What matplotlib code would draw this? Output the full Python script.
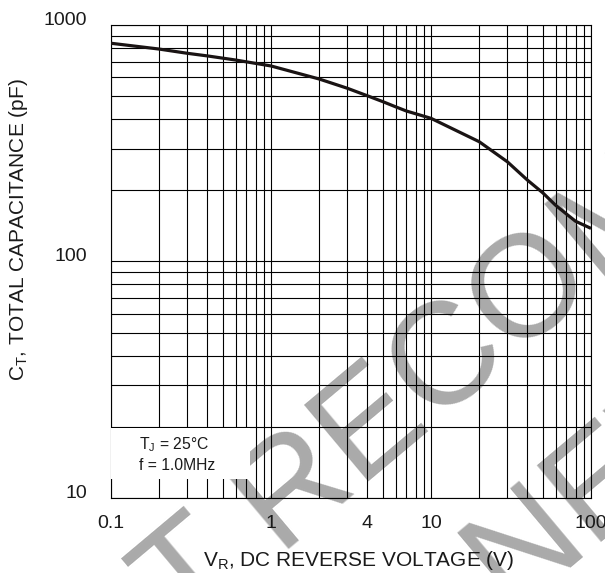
import matplotlib
matplotlib.use("Agg")
import matplotlib.pyplot as plt
import matplotlib.transforms as mtransforms
from matplotlib.patches import Rectangle
from matplotlib.ticker import FixedLocator, LogLocator, NullFormatter

plt.rcParams["font.family"] = ["Liberation Sans", "DejaVu Sans"]

# typical total capacitance vs reverse voltage
vr = [0.1, 0.2, 0.3, 0.4, 0.6, 1, 2, 3, 4, 5, 6, 7, 10,
      20, 30, 40, 50, 60, 70, 80, 100]
ct = [837, 791, 759, 740, 711, 671, 591, 540, 502, 474, 451, 433, 403,
      321, 264, 221, 195, 173, 159, 148, 138]

x_ticks = [0.1, 1, 4, 10, 100]
x_tick_labels = ["0.1", "1", "4", "10", "100"]
y_ticks = [10, 100, 1000]
y_tick_labels = ["10", "100", "1000"]

note_lines = ["T$_\\mathregular{J}$ = 25°C", "f = 1.0MHz"]
stamp_lines = ["NOT RECOMMENDED", "FOR NEW DESIGN"]

fig = plt.figure(figsize=(6.05, 5.73), dpi=100)
ax = fig.add_axes([0.1835, 0.1309, 0.7934, 0.8255])
ax.set_facecolor("none")

# grey diagonal stamp behind the chart
stamp_pos = [(0.982, 0.490), (1.218, 0.253)]
for (sx, sy), line in zip(stamp_pos, stamp_lines):
    fig.text(sx, sy, line, fontsize=104, color="#aaaaaa", rotation=40,
             rotation_mode="anchor", ha="center", va="baseline", zorder=-5)

ax.plot(vr, ct, color="#1a1414", linewidth=2.3, zorder=4,
        solid_capstyle="butt")

ax.set_xscale("log")
ax.set_yscale("log")
ax.set_xlim(0.1, 100)
ax.set_ylim(10, 1000)

ax.xaxis.set_major_locator(FixedLocator(x_ticks))
ax.set_xticklabels(x_tick_labels)
ax.yaxis.set_major_locator(FixedLocator(y_ticks))
ax.set_yticklabels(y_tick_labels)
ax.xaxis.set_minor_locator(LogLocator(base=10, subs=range(1, 10)))
ax.yaxis.set_minor_locator(LogLocator(base=10, subs=range(1, 10)))
ax.xaxis.set_minor_formatter(NullFormatter())
ax.yaxis.set_minor_formatter(NullFormatter())

ax.grid(True, which="both", color="black", linewidth=0.8)
ax.tick_params(which="both", length=0, labelsize=14, colors="#1a1a1a")
ax.tick_params(axis="x", pad=12)
ax.tick_params(axis="y", pad=17)
for spine in ax.spines.values():
    spine.set_linewidth(0.8)

# nudge the y labels slightly above their gridlines
shift = mtransforms.ScaledTranslation(0, 5 / 72, fig.dpi_scale_trans)
for lbl in ax.get_yticklabels():
    lbl.set_transform(lbl.get_transform() + shift)

# white box holding the test conditions
ax.add_patch(Rectangle((0.1, 12.05), 0.64, 20.0 - 12.05 - 0.25,
                       facecolor="white", edgecolor="none", zorder=3))
for i, line in enumerate(note_lines):
    ax.text(0.058, 0.112 - i * 0.044, line, transform=ax.transAxes,
            fontsize=11.3, color="#1a1a1a", va="center", ha="left", zorder=5)

ax.set_xlabel("V$_\\mathregular{R}$, DC REVERSE VOLTAGE (V)", fontsize=15,
              color="#1a1a1a")
ax.set_ylabel("C$_\\mathregular{T}$, TOTAL CAPACITANCE (pF)", fontsize=15,
              color="#1a1a1a")
ax.xaxis.set_label_coords(0.515, -0.108)
ax.yaxis.set_label_coords(-0.169, 0.567)

fig.savefig("out.png", dpi=100)
